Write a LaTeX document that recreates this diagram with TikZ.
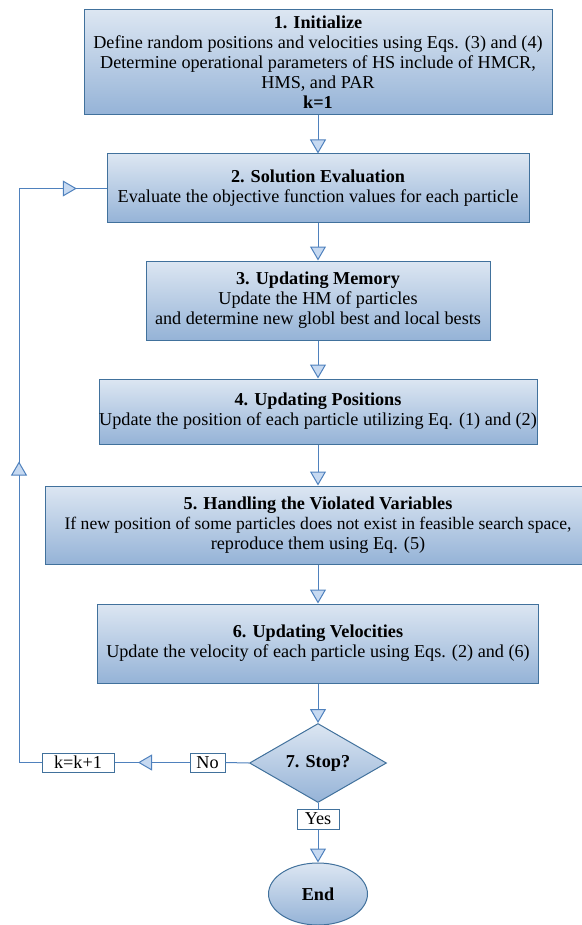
\documentclass[tikz,border=0pt]{standalone}
\usepackage{fontspec}
\setmainfont{Liberation Serif}
\usetikzlibrary{arrows.meta,shapes.geometric,calc}
\definecolor{gtop}{HTML}{DCE6F2}
\definecolor{gbot}{HTML}{95B3D7}
\definecolor{edgec}{HTML}{41719C}
\definecolor{lnc}{HTML}{4F81BD}
\definecolor{afill}{HTML}{C6D9F1}
\begin{document}
\begin{tikzpicture}[x=1pt,y=-1pt,
  procbox/.style={draw=edgec, line width=1pt, top color=gtop, bottom color=gbot,
    align=center, inner sep=0pt, font=\fontsize{18.2}{20}\selectfont},
  labbox/.style={draw=edgec, fill=white, line width=1pt, inner sep=0pt,
    font=\fontsize{18.2}{20}\selectfont},
  flow/.style={draw=lnc, line width=1pt},
  tipped/.style={-{Triangle[length=14pt,width=16pt,fill=afill]}}]
\useasboundingbox (0,0) rectangle (581,925);
\node[procbox, minimum width=468pt, minimum height=105pt] (b1) at (318,62.5)
  {\textbf{1. Initialize}\\Define random positions and velocities using Eqs. (3) and (4)\\Determine operational parameters of HS include of HMCR,\\HMS, and PAR\\\textbf{k=1}};
\node[procbox, minimum width=422pt, minimum height=69pt] (b2) at (318,188.5)
  {\textbf{2. Solution Evaluation}\\Evaluate the objective function values for each particle};
\node[procbox, minimum width=344pt, minimum height=79pt] (b3) at (318,300.5)
  {\textbf{3. Updating Memory}\\Update the HM of particles\\and determine new globl best and local bests};
\node[procbox, minimum width=438pt, minimum height=65pt] (b4) at (318,411.5)
  {\textbf{4. Updating Positions}\\Update the position of each particle utilizing Eq. (1) and (2)};
\node[procbox, minimum width=546pt, minimum height=78pt] (b5) at (318,525)
  {\textbf{5. Handling the Violated Variables}\\{\fontsize{17.6}{20}\selectfont If new position of some particles does not exist in feasible search space,}\\reproduce them using Eq. (5)};
\node[procbox, minimum width=441pt, minimum height=79pt] (b6) at (318,643.5)
  {\textbf{6. Updating Velocities}\\Update the velocity of each particle using Eqs. (2) and (6)};
\node[procbox, diamond, aspect=1.73, minimum width=137pt, minimum height=79pt] (dia) at (318,763)
  {\textbf{7. Stop?}};
\node[labbox, minimum width=42pt, minimum height=20pt] (yes) at (318,819) {Yes};
\node[procbox, ellipse, minimum width=99pt, minimum height=62pt] (endn) at (318,894) {\textbf{End}};
\node[labbox, minimum width=35pt, minimum height=19pt] (no) at (207.5,762.5) {No};
\node[labbox, minimum width=72pt, minimum height=19pt] (kk) at (78,762.5) {k=k+1};
\coordinate (lc) at (19,762.5);
\coordinate (tc) at (19,188.5);
\draw[flow,tipped] (b1) -- (b2);
\draw[flow,tipped] (b2) -- (b3);
\draw[flow,tipped] (b3) -- (b4);
\draw[flow,tipped] (b4) -- (b5);
\draw[flow,tipped] (b5) -- (b6);
\draw[flow,tipped] (b6) -- (dia);
\draw[flow] (dia.south) -- (yes.north);
\draw[flow,tipped] (yes.south) -- (endn.north);
\draw[flow] (dia.west) -- (no.east);
\draw[flow] (no.west) -- (kk.east);
\draw[flow] (kk.west) -- (lc) -- (tc) -- (b2.west);
\path (no.west) -- coordinate[pos=0.5] (m1) (kk.east);
\path (lc) -- coordinate[pos=0.5] (m2) (tc);
\path (tc) -- coordinate[pos=0.5] (m3) (b2.west);
\draw[flow,tipped] (m1) -- ($(m1)+(-14,0)$);
\draw[flow,tipped] (m2) -- ($(m2)+(0,-14)$);
\draw[flow,tipped] (m3) -- ($(m3)+(14,0)$);
\end{tikzpicture}
\end{document}
